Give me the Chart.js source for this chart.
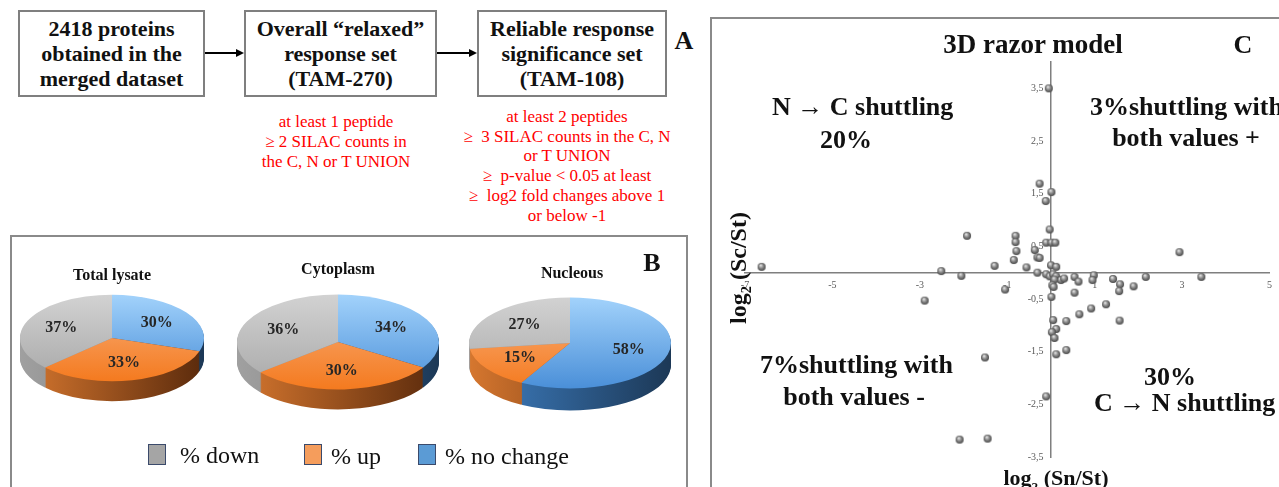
<!DOCTYPE html>
<html>
<head>
<meta charset="utf-8">
<script src="https://cdn.jsdelivr.net/npm/chart.js@4.4.1/dist/chart.umd.min.js"></script>
<style>
  html, body { margin: 0; padding: 0; background: #fff; }
  body { width: 1279px; height: 487px; position: relative; overflow: hidden; font-family: "Liberation Serif", "Times New Roman", serif; color: #111; }
  .box { position: absolute; border: 2px solid #7f7f7f; box-sizing: border-box; display: flex; align-items: center; justify-content: center; text-align: center; font-weight: bold; font-size: 22px; line-height: 25px; }
  .red { position: absolute; color: #ff0000; font-size: 17px; text-align: center; white-space: nowrap; transform: translateX(-50%); }
  .t { position: absolute; font-weight: bold; white-space: nowrap; transform: translate(-50%, -50%); z-index: 5; }
  .tl { position: absolute; font-weight: bold; white-space: nowrap; transform: translateY(-50%); z-index: 5; }
  .frame { position: absolute; border: 2px solid #8a8a8a; box-sizing: border-box; }
  .sq { position: absolute; width: 18px; height: 21px; border: 1.5px solid #3b4a6b; box-sizing: border-box; }
  .leg { position: absolute; font-size: 24px; transform: translateY(-50%); white-space: nowrap; }
  canvas { position: absolute; }
  sub { font-size: 0.6em; }
</style>
</head>
<body>

<!-- Panel A -->
<div class="box" style="left:18px;top:10px;width:187px;height:87px;">2418 proteins<br>obtained in the<br>merged dataset</div>
<div class="box" style="left:244px;top:10px;width:193px;height:87px;">Overall “relaxed”<br>response set<br>(TAM-270)</div>
<div class="box" style="left:477px;top:10px;width:190px;height:87px;">Reliable response<br>significance set<br>(TAM-108)</div>
<svg style="position:absolute;left:0;top:0" width="700" height="100">
  <line x1="205" y1="53" x2="238" y2="53" stroke="#000" stroke-width="2"/>
  <polygon points="244,53 236,49 236,57" fill="#000"/>
  <line x1="437" y1="53" x2="471" y2="53" stroke="#000" stroke-width="2"/>
  <polygon points="477,53 469,49 469,57" fill="#000"/>
</svg>
<div class="t" style="left:684px;top:41px;font-size:26px;">A</div>
<div class="red" style="left:336px;top:112px;line-height:20px;">at least 1 peptide<br>≥ 2 SILAC counts in<br>the C, N or T UNION</div>
<div class="red" style="left:567px;top:107px;line-height:19.7px;">at least 2 peptides<br>≥&nbsp;&nbsp;3 SILAC counts in the C, N<br>or T UNION<br>≥&nbsp;&nbsp;p-value &lt; 0.05 at least<br>≥&nbsp;&nbsp;log2 fold changes above 1<br>or below -1</div>

<!-- Panel B -->
<div class="frame" style="left:10px;top:235px;width:678px;height:262px;"></div>
<div class="t" style="left:652px;top:263px;font-size:26px;">B</div>
<div class="t" style="left:112px;top:275px;font-size:16px;">Total lysate</div>
<div class="t" style="left:338px;top:269px;font-size:16px;">Cytoplasm</div>
<div class="t" style="left:572px;top:273px;font-size:16px;">Nucleous</div>
<canvas id="pie1"></canvas>
<canvas id="pie2"></canvas>
<canvas id="pie3"></canvas>
<div class="sq" style="left:148px;top:444px;background:#a5a5a5;"></div>
<div class="leg" style="left:180px;top:455px;">% down</div>
<div class="sq" style="left:304px;top:444px;background:#f59d5c;"></div>
<div class="leg" style="left:331px;top:456px;">% up</div>
<div class="sq" style="left:418px;top:444px;background:#5b9bd5;"></div>
<div class="leg" style="left:445px;top:456px;">% no change</div>

<!-- Panel C -->
<div class="frame" style="left:710px;top:17px;width:620px;height:500px;"></div>
<canvas id="scatter" width="567" height="467" style="left:712px;top:20px;"></canvas>
<div class="t" style="left:1033px;top:44px;font-size:27px;">3D razor model</div>
<div class="t" style="left:1243px;top:45px;font-size:26px;">C</div>
<div class="tl" style="left:772px;top:107px;font-size:26px;">N → C shuttling</div>
<div class="t" style="left:846px;top:140px;font-size:26px;">20%</div>
<div class="tl" style="left:1090px;top:107px;font-size:26px;">3%shuttling with</div>
<div class="t" style="left:1186px;top:138px;font-size:26px;">both values +</div>
<div class="tl" style="left:760px;top:365px;font-size:26px;">7%shuttling with</div>
<div class="t" style="left:854px;top:397px;font-size:26px;">both values -</div>
<div class="t" style="left:1170px;top:377px;font-size:26px;">30%</div>
<div class="tl" style="left:1094px;top:403px;font-size:26px;">C → N shuttling</div>
<div class="t" style="left:740px;top:268px;font-size:24px;transform:translate(-50%,-50%) rotate(-90deg);">log<sub>2</sub> (Sc/St)</div>
<div class="t" style="left:1056px;top:480px;font-size:22px;">log<sub>2</sub> (Sn/St)</div>

<script>
// --- Datos de los pasteles ---
const pieLabels = ['% no change', '% up', '% down'];
const totalLysate = [30, 33, 37];
const cytoplasm = [34, 30, 36];
const nucleous = [58, 15, 27];

// --- Datos del diagrama de dispersion (log2 Sn/St, log2 Sc/St) ---
const shuttleX = [-6.62, -2.89, -2.51, -2.05, -1.92, -1.51, -2.09, -1.45, -1.29, -1.05,
  -0.81, -0.81, -0.79, -0.85, -0.56, -0.37, -0.31, -0.26, -0.31,
  -0.05, 0.01, -0.26, -0.12, -0.03, -0.11, 0.01, 0.10, 0.00, 0.12,
  -0.11, -0.03, 0.05, 0.12, 0.08, 0.03, 0.06, 0.01, 0.05, 0.12, 0.02, 0.08, 0.12, -0.11,
  0.23, 0.30, 0.54, 0.63, 0.98, 0.95, 0.54, 0.35, 0.65, 0.92, 1.26, 0.35,
  1.42, 1.58, 1.56, 1.89, 2.17, 3.44, 2.94, 1.57];
const shuttleY = [0.11, -0.53, 0.03, -0.06, 0.70, -1.61, -3.17, -3.15, 0.13, -0.32,
  0.70, 0.58, 0.41, 0.24, 0.10, 0.43, 0.29, 0.28, 0.00,
  3.50, 1.53, 1.69, 1.36, 0.82, 0.57, 0.57, 0.57, 0.14, 0.11,
  -0.03, -0.07, -0.03, -0.07, -0.13, -0.24, -0.27, -0.46, -0.90, -1.07, -1.13, -1.24, -1.55, -2.35,
  -0.14, -0.11, -0.08, -0.17, -0.05, -0.14, -0.38, -0.92, -0.79, -0.68, -0.60, -1.47,
  -0.12, -0.22, -0.35, -0.26, -0.08, -0.08, 0.39, -0.91];
const xTicks = [-7, -5, -3, -1, 1, 3, 5];
const yTicks = [-3.5, -2.5, -1.5, -0.5, 0.5, 1.5, 2.5, 3.5];

// colores: cara superior (arriba -> abajo) y lateral (izq -> der)
const topColors = [['#a2d2fb', '#4a8fd8'], ['#f9b07c', '#f47a1f'], ['#d2d2d2', '#a8a8a8']];
const sideColors = [['#3f80c4', '#1c3856'], ['#d6772f', '#5a2a0c'], ['#a0a0a0', '#6e6e6e']];

// --- Plugin: pastel inclinado con grosor ---
const tiltPlugin = {
  id: 'tilt',
  beforeDatasetsDraw(chart, args, opts) {
    const ctx = chart.ctx;
    const arcs = chart.getDatasetMeta(0).data;
    const cx = arcs[0].x, cy = arcs[0].y, r = arcs[0].outerRadius;
    for (let d = opts.depth; d > 0; d--) {
      ctx.save();
      ctx.translate(0, cy + d);
      ctx.scale(1, opts.k);
      ctx.translate(0, -cy);
      arcs.forEach((arc, i) => {
        const g = ctx.createLinearGradient(cx - r, 0, cx + r, 0);
        g.addColorStop(0, sideColors[i][0]);
        g.addColorStop(1, sideColors[i][1]);
        ctx.fillStyle = g;
        ctx.beginPath();
        ctx.moveTo(cx, cy);
        ctx.arc(cx, cy, r, arc.startAngle, arc.endAngle);
        ctx.closePath();
        ctx.fill();
      });
      ctx.restore();
    }
    ctx.save();
    ctx.translate(0, cy);
    ctx.scale(1, opts.k);
    ctx.translate(0, -cy);
  },
  afterDatasetsDraw(chart, args, opts) {
    const ctx = chart.ctx;
    ctx.restore();
    const arcs = chart.getDatasetMeta(0).data;
    const values = chart.data.datasets[0].data;
    ctx.save();
    ctx.font = 'bold 16px "Liberation Serif", serif';
    ctx.fillStyle = '#262626';
    ctx.textAlign = 'center';
    ctx.textBaseline = 'middle';
    arcs.forEach((arc, i) => {
      const mid = (arc.startAngle + arc.endAngle) / 2;
      const rr = arc.outerRadius * 0.6;
      ctx.fillText(values[i] + '%', arc.x + Math.cos(mid) * rr, arc.y + Math.sin(mid) * rr * opts.k);
    });
    ctx.restore();
  }
};

function makePie(id, values, cx, cy, rx, k, depth) {
  const canvas = document.getElementById(id);
  const size = rx * 2 + 4;
  canvas.width = size;
  canvas.height = size;
  canvas.style.left = (cx - size / 2) + 'px';
  canvas.style.top = (cy - size / 2) + 'px';
  const ctx = canvas.getContext('2d');
  const fills = topColors.map(c => {
    const g = ctx.createLinearGradient(0, size / 2 - rx, 0, size / 2 + rx);
    g.addColorStop(0, c[0]);
    g.addColorStop(1, c[1]);
    return g;
  });
  return new Chart(ctx, {
    type: 'pie',
    data: {
      labels: pieLabels,
      datasets: [{ data: values, backgroundColor: fills, borderWidth: 0 }]
    },
    options: {
      responsive: false,
      animation: false,
      rotation: 0,
      layout: { padding: 2 },
      events: [],
      plugins: { legend: { display: false }, tooltip: { enabled: false }, tilt: { k: k, depth: depth } }
    },
    plugins: [tiltPlugin]
  });
}

makePie('pie1', totalLysate, 112, 338, 92, 0.47, 20);
makePie('pie2', cytoplasm, 338, 342, 101, 0.47, 20);
makePie('pie3', nucleous, 570, 343, 101, 0.45, 22);

// --- Bolitas grises para los puntos ---
function makeBall(r) {
  const c = document.createElement('canvas');
  c.width = c.height = r * 2 + 2;
  const g = c.getContext('2d');
  const grad = g.createRadialGradient(r * 0.75 + 1, r * 0.6 + 1, 0.3, r + 1, r + 1, r + 0.5);
  grad.addColorStop(0, '#e6e6e6');
  grad.addColorStop(0.45, '#8c8c8c');
  grad.addColorStop(1, '#3a3a3a');
  g.fillStyle = grad;
  g.beginPath();
  g.arc(r + 1, r + 1, r, 0, Math.PI * 2);
  g.fill();
  return c;
}

const points = shuttleX.map((x, i) => ({ x: x, y: shuttleY[i] }));
const tickFont = { family: '"Liberation Serif", serif', size: 10 };
const fmt = v => String(v).replace('.', ',');
// el eje centrado no aplica padding a las etiquetas de y: se separan con espacios
const fmtY = v => fmt(v) + '\u00a0\u00a0\u00a0';

new Chart(document.getElementById('scatter'), {
  type: 'scatter',
  data: {
    datasets: [{ data: points, pointStyle: makeBall(4), pointRadius: 4 }]
  },
  options: {
    responsive: false,
    animation: false,
    events: [],
    layout: { padding: { left: 33, right: 6, top: 42, bottom: 30 } },
    plugins: { legend: { display: false }, tooltip: { enabled: false } },
    scales: {
      x: {
        type: 'linear', min: -7, max: 5,
        position: { y: 0 },
        afterFit(s) { s.height = 0; },
        afterBuildTicks(s) { s.ticks = xTicks.map(v => ({ value: v })); },
        grid: { drawOnChartArea: false, drawTicks: false },
        border: { color: '#7f7f7f', width: 1.5 },
        ticks: { autoSkip: false, maxRotation: 0, padding: 7, color: '#595959', font: tickFont, callback: fmt }
      },
      y: {
        type: 'linear', min: -3.5, max: 4,
        position: { x: 0 },
        afterFit(s) { s.width = 0; },
        afterBuildTicks(s) { s.ticks = yTicks.map(v => ({ value: v })); },
        grid: { drawOnChartArea: false, drawTicks: false },
        border: { color: '#7f7f7f', width: 1.5 },
        ticks: { autoSkip: false, padding: 10, color: '#595959', font: tickFont, callback: fmtY }
      }
    }
  }
});
</script>
</body>
</html>
